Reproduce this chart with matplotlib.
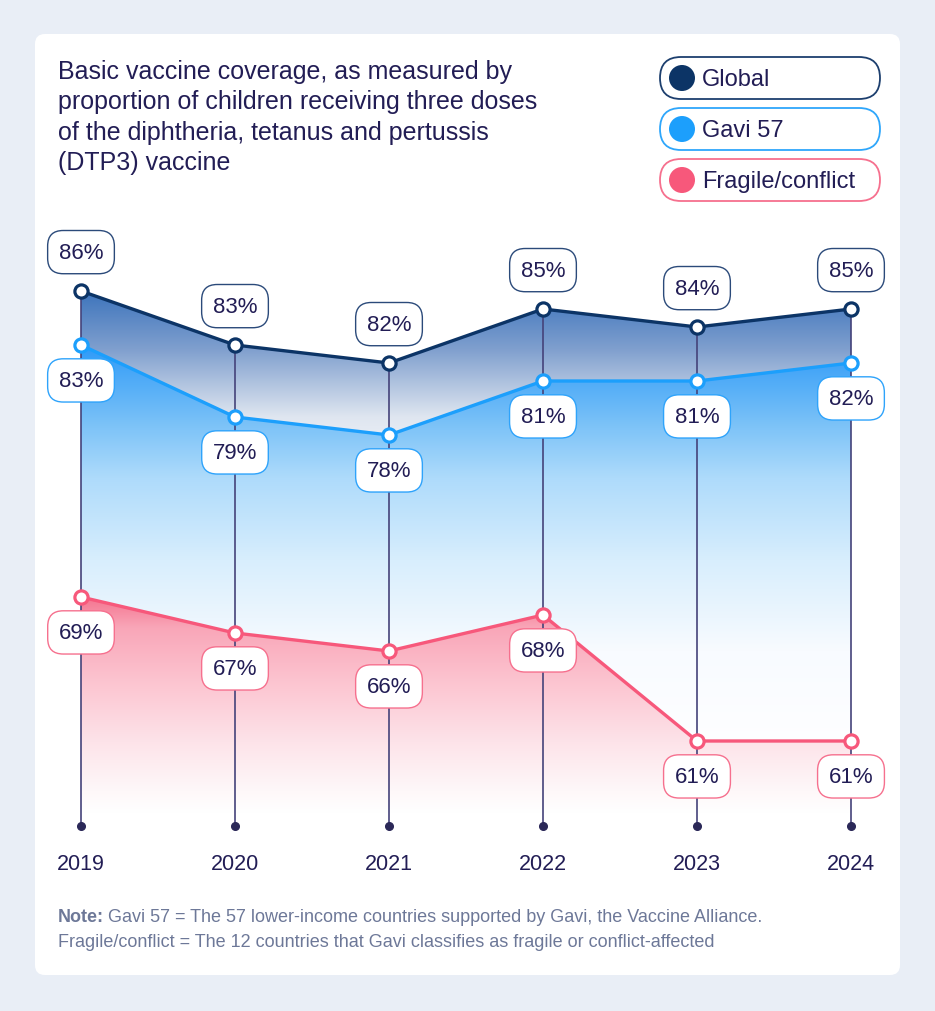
import numpy as np
import matplotlib.pyplot as plt
from matplotlib.patches import FancyBboxPatch, Circle
from matplotlib.colors import LinearSegmentedColormap

years = [2019, 2020, 2021, 2022, 2023, 2024]
global_cov = [86, 83, 82, 85, 84, 85]
gavi57 = [83, 79, 78, 81, 81, 82]
fragile = [69, 67, 66, 68, 61, 61]
series_names = ["Global", "Gavi 57", "Fragile/conflict"]

title = ("Basic vaccine coverage, as measured by\n"
         "proportion of children receiving three doses\n"
         "of the diphtheria, tetanus and pertussis\n"
         "(DTP3) vaccine")
note1 = "Gavi 57 = The 57 lower-income countries supported by Gavi, the Vaccine Alliance."
note2 = "Fragile/conflict = The 12 countries that Gavi classifies as fragile or conflict-affected"

NAVY = "#0c3466"
BLUE = "#1c9ffc"
PINK = "#f7587b"
INK = "#221d55"
STEM = "#45437a"
NOTE = "#6d7898"

plt.rcParams['font.family'] = ['Liberation Sans', 'DejaVu Sans']

W, H = 935, 1012
fig = plt.figure(figsize=(W / 100, H / 100), dpi=100)
fig.patch.set_facecolor('#e9eef6')

# background layer in pixel units
bg = fig.add_axes([0, 0, 1, 1])
bg.set_xlim(0, W)
bg.set_ylim(H, 0)
bg.axis('off')
bg.add_patch(FancyBboxPatch((35, 35), 865, 941, boxstyle="round,pad=0,rounding_size=10",
                            fc='white', ec='none'))
bg.text(58, 60, title, fontsize=18, color=INK, va='top', ha='left', linespacing=1.33)

legend_cols = [NAVY, BLUE, PINK]
legend_edges = ["#1d3f6e", "#2ea6fb", "#f6708e"]
for i, name in enumerate(series_names):
    yc = 79 + i * 51
    bg.add_patch(FancyBboxPatch((660, yc - 21), 220, 42, boxstyle="round,pad=0,rounding_size=21",
                                fc='white', ec=legend_edges[i], lw=1.3))
    bg.add_patch(Circle((682, yc), 13, fc=legend_cols[i], ec='none'))
    bg.text(702, yc + 1, name, fontsize=17, color=INK, va='center', ha='left')

bg.text(58, 918, "Note:", fontsize=13, color=NOTE, fontweight='bold', va='center')
bg.text(108, 918, note1, fontsize=13, color=NOTE, va='center')
bg.text(58, 943, note2, fontsize=13, color=NOTE, va='center')

# data axes
x0, x1 = 2018.5, 2024.5
y0, y1 = 56, 90
ax = fig.add_axes([4 / W, 1 - 832 / H, 924 / W, 612 / H])
ax.patch.set_alpha(0)
base = 56.3


def gradient_fill(x, y, bottom, top, stops, z):
    poly = ax.fill_between(x, y, base, color='none', lw=0)
    cmap = LinearSegmentedColormap.from_list('g', stops)
    grad = np.linspace(0, 1, 256).reshape(-1, 1)
    im = ax.imshow(grad, cmap=cmap, aspect='auto', origin='lower',
                   extent=[x[0], x[-1], bottom, top], zorder=z, interpolation='bilinear')
    im.set_clip_path(poly.get_paths()[0], transform=ax.transData)
    return im


gradient_fill(years, global_cov, 77, 86,
              [(0, '#eef2f8'), (0.222, '#dfe6f0'), (0.644, '#7f9fce'), (1, '#3d74bc')], 1)
gradient_fill(years, gavi57, 60, 83,
              [(0, '#ffffff'), (0.26, '#f8fbff'), (0.34, '#ecf6fe'), (0.48, '#d8eefd'),
               (0.68, '#aedbfb'), (0.8, '#7fc4f8'), (1, '#2e9af7')], 2)
gradient_fill(years, fragile, 57, 69,
              [(0, '#ffffff'), (0.1, '#fef8f9'), (0.33, '#fde3e9'), (0.61, '#fcc4d0'),
               (0.86, '#f9a6b8'), (1, '#f47590')], 3)

ax.vlines(years, base, global_cov, color=STEM, lw=1.2, zorder=4)
ax.plot(years, [base] * len(years), 'o', ms=5.5, color='#2b2858', zorder=5, clip_on=False)

for vals, col in [(global_cov, NAVY), (gavi57, BLUE), (fragile, PINK)]:
    ax.plot(years, vals, color=col, lw=2.4, zorder=6, solid_joinstyle='round')
    ax.plot(years, vals, 'o', ms=9.5, mfc='white', mec=col, mew=2.3, zorder=7, clip_on=False)

label_edges = ["#2b4a7a", "#2ea3fb", "#f6708e"]
for vals, edge, dy in [(global_cov, label_edges[0], 28), (gavi57, label_edges[1], -25.5),
                       (fragile, label_edges[2], -25.5)]:
    for xv, v in zip(years, vals):
        ax.annotate(f"{v}%", (xv, v), xytext=(0, dy), textcoords='offset points',
                    ha='center', va='center', fontsize=16, color=INK, zorder=8,
                    bbox=dict(boxstyle="round,pad=0.5,rounding_size=0.7",
                              fc='white', ec=edge, lw=1.0))

ax.set_xlim(x0, x1)
ax.set_ylim(y0, y1)
ax.set_xticks(years)
ax.set_xticklabels([str(y) for y in years], fontsize=15.5, color=INK)
ax.tick_params(axis='x', length=0, pad=16)
ax.set_yticks([])
for s in ax.spines.values():
    s.set_visible(False)

fig.savefig('out.png', dpi=100, facecolor=fig.get_facecolor())
